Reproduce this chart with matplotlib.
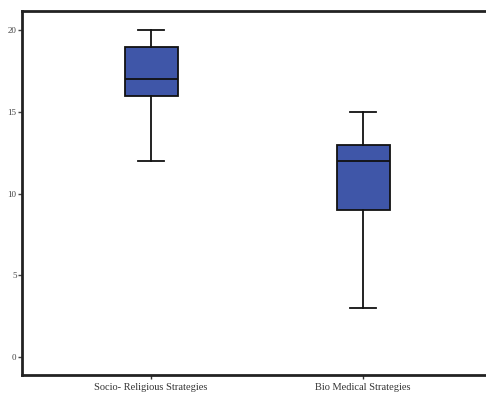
import matplotlib
matplotlib.use("Agg")
import matplotlib.pyplot as plt

categories = ["Socio- Religious Strategies", "Bio Medical Strategies"]
whisker_low = [12, 3]
q1 = [16, 9]
median = [17, 12]
q3 = [19, 13]
whisker_high = [20, 15]
y_ticks = [0, 5, 10, 15, 20]

plt.rcParams['font.family'] = ['Liberation Serif', 'DejaVu Serif']

fig = plt.figure(figsize=(4.86, 3.96), dpi=100)
ax = fig.add_axes([0.0453, 0.053, 0.9547, 0.918])

stats = []
for i, name in enumerate(categories):
    stats.append(dict(label=name, whislo=whisker_low[i], q1=q1[i], med=median[i],
                      q3=q3[i], whishi=whisker_high[i], fliers=[]))

positions = list(range(1, len(categories) + 1))
ax.bxp(stats, positions=positions, widths=0.25, patch_artist=True,
       showfliers=False,
       boxprops=dict(facecolor="#3f56a8", edgecolor="#111111", linewidth=1.3),
       medianprops=dict(color="#111111", linewidth=1.3),
       whiskerprops=dict(color="#111111", linewidth=1.3),
       capprops=dict(color="#111111", linewidth=1.3),
       capwidths=0.125)

ax.set_xlim(0.3915, 2.58)
ax.set_ylim(-1.1, 21.16)
ax.set_yticks(y_ticks)
ax.set_yticklabels([str(v) for v in y_ticks])
ax.set_xticks(positions)
ax.set_xticklabels(categories)

for side in ("left", "bottom", "top"):
    ax.spines[side].set_linewidth(2.0)
    ax.spines[side].set_color("#222222")
ax.spines["right"].set_visible(False)

ax.tick_params(axis="y", length=3, width=1, labelsize=6.5, pad=1, colors="#444444")
ax.tick_params(axis="x", length=3, width=1, labelsize=7.5, pad=3, colors="#333333")

fig.savefig("out.png", dpi=100)
